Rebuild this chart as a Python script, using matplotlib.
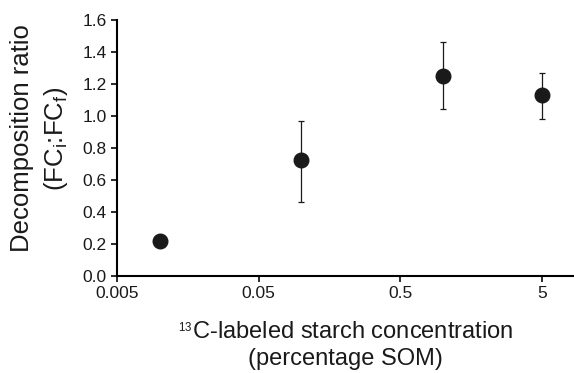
import numpy as np
import matplotlib.pyplot as plt

plt.rcParams['font.family'] = ['Liberation Sans', 'DejaVu Sans']
plt.rcParams['mathtext.fontset'] = 'custom'
plt.rcParams['mathtext.rm'] = 'Liberation Sans'
plt.rcParams['mathtext.it'] = 'Liberation Sans'

# starch concentration (% SOM) and decomposition ratio
conc = [0.01, 0.1, 1.0, 5.0]
ratio = [0.22, 0.725, 1.25, 1.13]
err_low = [0.0, 0.26, 0.205, 0.15]
err_high = [0.0, 0.245, 0.21, 0.14]

xticks = [0.005, 0.05, 0.5, 5]
xtick_labels = ['0.005', '0.05', '0.5', '5']
yticks = np.arange(0, 1.61, 0.2)

fig = plt.figure(figsize=(5.74, 3.73), dpi=100)
ax = fig.add_axes([117 / 574, 1 - 276 / 373, (574 - 117) / 574, (276 - 20) / 373])

ax.errorbar(conc, ratio, yerr=[err_low, err_high], fmt='o', color='#1a1a1a',
            markersize=10.5, ecolor='#1a1a1a', elinewidth=0.9, capsize=2.3,
            capthick=0.9)

ax.set_xscale('log')
ax.set_xlim(0.005, 8.4)
ax.set_ylim(0, 1.6)
ax.set_xticks(xticks)
ax.set_xticklabels(xtick_labels)
ax.xaxis.set_minor_locator(plt.NullLocator())
ax.set_yticks(yticks)
ax.set_yticklabels([f'{v:.1f}' for v in yticks])

for s in ['top', 'right']:
    ax.spines[s].set_visible(False)
for s in ['left', 'bottom']:
    ax.spines[s].set_linewidth(1.5)
ax.tick_params(axis='both', labelsize=12.5, width=1.3, length=4, direction='out',
               color='#1a1a1a', labelcolor='#1a1a1a')

ax.set_ylabel('Decomposition ratio\n(FC$_i$:FC$_f$)', fontsize=18.5, color='#1a1a1a',
              linespacing=1.38)
ax.yaxis.set_label_coords(-0.102, 0.537)
ax.set_xlabel(r'$^{\mathregular{_{13}}}$C-labeled starch concentration' + '\n(percentage SOM)',
              fontsize=17, color='#1a1a1a', linespacing=1.33, labelpad=14)

fig.savefig('out.png', dpi=100)
